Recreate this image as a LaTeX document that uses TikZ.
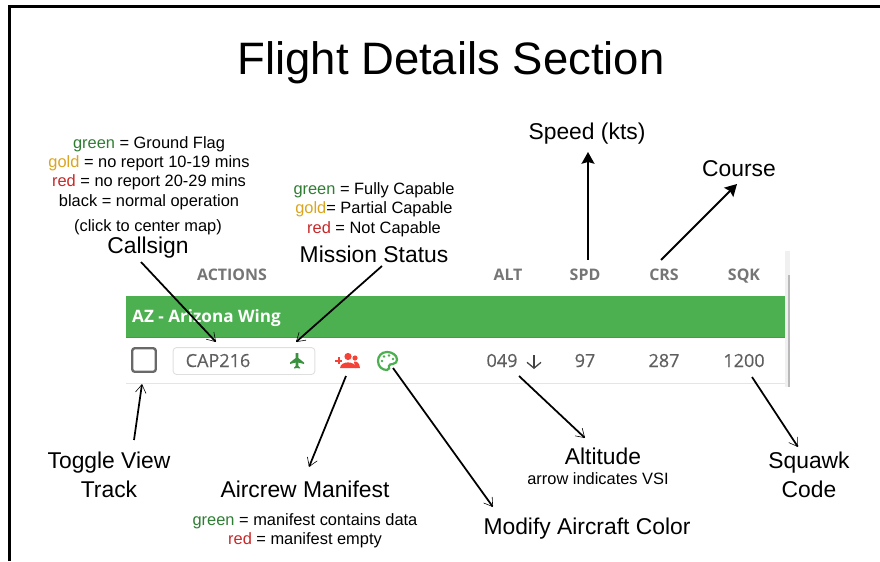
\documentclass[tikz,border=0pt]{standalone}
\usepackage{fontspec}
\setmainfont{Liberation Sans}
\newfontfamily\uifont[FakeBold=0.4]{Open Sans}
\newfontfamily\uiheadfont{Open Sans}
\usetikzlibrary{arrows.meta}
\definecolor{bandgreen}{HTML}{4CAF50}
\definecolor{capgreen}{HTML}{2E7D32}
\definecolor{capgold}{HTML}{DAA520}
\definecolor{capred}{HTML}{C62828}
\definecolor{iconred}{HTML}{F44336}
\definecolor{uigray}{HTML}{757575}
\definecolor{uitext}{HTML}{5F5F5F}
\tikzset{
  titlelabel/.style={font=\fontsize{38.8}{42}\selectfont,yshift=-2pt},
  biglabel/.style={font=\fontsize{19.5}{22}\selectfont,yshift=-0.3pt},
  smalllabel/.style={font=\fontsize{14}{16}\selectfont,yshift=-1pt},
  headlabel/.style={font=\uiheadfont\bfseries\fontsize{13.6}{15}\selectfont,text=uigray,anchor=base},
  celllabel/.style={font=\uifont\fontsize{15.4}{17}\selectfont,text=uitext,anchor=base},
  openarrow/.style={-{Straight Barb[length=7pt,width=9pt,line width=0.5pt]},line width=1.5pt},
  fillarrow/.style={-{Stealth[length=10pt,width=11pt,inset=1.5pt]},line width=1.7pt},
}
\begin{document}
\begin{tikzpicture}[x=0.03cm,y=-0.03cm]
\useasboundingbox (0,0) rectangle (880,561);
% frame
\draw[line width=3pt] (9.5,561) -- (9.5,6.5) -- (880,6.5);
\node[titlelabel] (title) at (451,60) {Flight Details Section};
% table
\fill[bandgreen] (126,296) rectangle (785,338);
\draw[capgreen!35!bandgreen,line width=0.8pt] (126,337.5) -- (785,337.5);
\fill[gray!12] (785,251) rectangle (790,387);
\fill[gray!55] (788,275) rectangle (790,387);
\draw[gray!20,line width=1.2pt] (126,383.5) -- (785,383.5);
\node[headlabel] (actions) at (232,280) {ACTIONS};
\node[headlabel] (alt) at (508,280) {ALT};
\node[headlabel] (spd) at (585,280) {SPD};
\node[headlabel] (crs) at (664,280) {CRS};
\node[headlabel] (sqk) at (744,280) {SQK};
\node[anchor=base west,inner xsep=0pt,font=\uiheadfont\bfseries\fontsize{14.6}{16}\selectfont,text=white] (wing) at (132,322) {AZ - Arizona Wing};
\node[draw=uigray!90!black,line width=2pt,rounded corners=2pt,minimum size=20pt,inner sep=0pt] (toggle) at (144,360) {};
\node[draw=gray!25,line width=0.8pt,rounded corners=3pt,minimum width=121pt,minimum height=23pt,inner sep=0pt] (capbox) at (244,361) {};
\node[celllabel] (cap) at (218,367) {CAP216};
\node[celllabel] (altval) at (502,367) {049};
\node[celllabel] (spdval) at (585,367) {97};
\node[celllabel] (crsval) at (664,367) {287};
\node[celllabel] (sqkval) at (744,367) {1200};
% icons
\fill[capgreen!60!bandgreen] (295.7,353) -- (298.3,353) -- (298.3,358) -- (304,362.5) -- (304,364) -- (298.3,362.5) -- (298.3,366) -- (300,367.5) -- (300,368.5) -- (297,368) -- (294,368.5) -- (294,367.5) -- (295.7,366) -- (295.7,362.5) -- (290,364) -- (290,362.5) -- (295.7,358) -- cycle;
\fill[iconred] (348,356.5) circle (3.6);
\fill[iconred] (355,358) circle (2.6);
\fill[iconred] (335,359.5) rectangle +(7,2);
\fill[iconred] (337.5,357) rectangle +(2,7);
\fill[iconred] (340,368) .. controls (340.5,360.5) and (355.5,360.5) .. (356,368) -- cycle;
\fill[iconred] (354,361.5) .. controls (357,361) and (359.5,363) .. (360,368) -- (355,368) -- cycle;
\draw[bandgreen,line width=1.9pt] (387,352) .. controls (381,352) and (378,356.5) .. (378,361) .. controls (378,366.5) and (382,370) .. (387,370) .. controls (390,370) and (389,367) .. (389,366) .. controls (389,364.5) and (391,364) .. (393,364) .. controls (396,364) and (397,361) .. (397,359.5) .. controls (397,355) and (392,352) .. (387,352) -- cycle;
\foreach \dotx/\doty in {382/361,384/356.5,389/355.5,393/359} \fill[bandgreen] (\dotx,\doty) circle (1.4);
\coordinate (vsitop) at (534,355);
\coordinate (vsibot) at (534,369);
\draw[-{Straight Barb[length=5pt,width=12pt]},uitext!70!black,line width=1.1pt] (vsitop) -- (vsibot);
% callsign text
\node[smalllabel] (csgreen) at (149,143) {\textcolor{capgreen}{green} = Ground Flag};
\node[smalllabel] (csgold) at (149,162) {\textcolor{capgold}{gold} = no report 10-19 mins};
\node[smalllabel] (csred) at (149,181) {\textcolor{capred}{red} = no report 20-29 mins};
\node[smalllabel] (csblack) at (149,201) {black = normal operation};
\node[smalllabel] (csclick) at (148,226) {(click to center map)};
\node[biglabel] (callsign) at (148,247) {Callsign};
% mission text
\node[smalllabel] (msgreen) at (374,189) {\textcolor{capgreen}{green} = Fully Capable};
\node[smalllabel] (msgold) at (374,208) {\textcolor{capgold}{gold}= Partial Capable};
\node[smalllabel] (msred) at (374,228) {\textcolor{capred}{red} = Not Capable};
\node[biglabel] (mission) at (374,254) {Mission Status};
\node[biglabel] (speed) at (587,133) {Speed (kts)};
\node[biglabel] (course) at (739,168) {Course};
\node[biglabel] (togglea) at (109,462) {Toggle View};
\node[biglabel] (toggleb) at (109,489) {Track};
\node[biglabel] (aircrew) at (305,489) {Aircrew Manifest};
\node[smalllabel] (acgreen) at (305,520) {\textcolor{capgreen}{green} = manifest contains data};
\node[smalllabel] (acred) at (305,539) {\textcolor{capred}{red} = manifest empty};
\node[biglabel] (color) at (587,528) {Modify Aircraft Color};
\node[biglabel] (altitude) at (603,456) {Altitude};
\node[smalllabel] (vsi) at (598,477) {arrow indicates VSI};
\node[biglabel] (squawka) at (809,462) {Squawk};
\node[biglabel] (squawkb) at (809,489) {Code};
% arrows
\coordinate (callfrom) at (141,262);
\coordinate (callto) at (216,342);
\coordinate (missfrom) at (382,266);
\coordinate (missto) at (296,342);
\coordinate (spdfrom) at (588,260);
\coordinate (spdto) at (588,152);
\coordinate (crsfrom) at (661,260);
\coordinate (crsto) at (737,184);
\coordinate (altfrom) at (519,376);
\coordinate (altto) at (585,438);
\coordinate (sqkfrom) at (752,377);
\coordinate (sqkto) at (798,447);
\coordinate (palfrom) at (393,368);
\coordinate (palto) at (493,507);
\coordinate (crewfrom) at (346,376);
\coordinate (crewto) at (309,467);
\coordinate (togfrom) at (134,440);
\coordinate (togto) at (142,384);
\draw[openarrow] (callfrom) -- (callto);
\draw[openarrow] (missfrom) -- (missto);
\draw[fillarrow] (spdfrom) -- (spdto);
\draw[fillarrow] (crsfrom) -- (crsto);
\draw[openarrow] (altfrom) -- (altto);
\draw[openarrow] (sqkfrom) -- (sqkto);
\draw[openarrow] (palfrom) -- (palto);
\draw[openarrow] (crewfrom) -- (crewto);
\draw[openarrow] (togfrom) -- (togto);
\end{tikzpicture}
\end{document}
